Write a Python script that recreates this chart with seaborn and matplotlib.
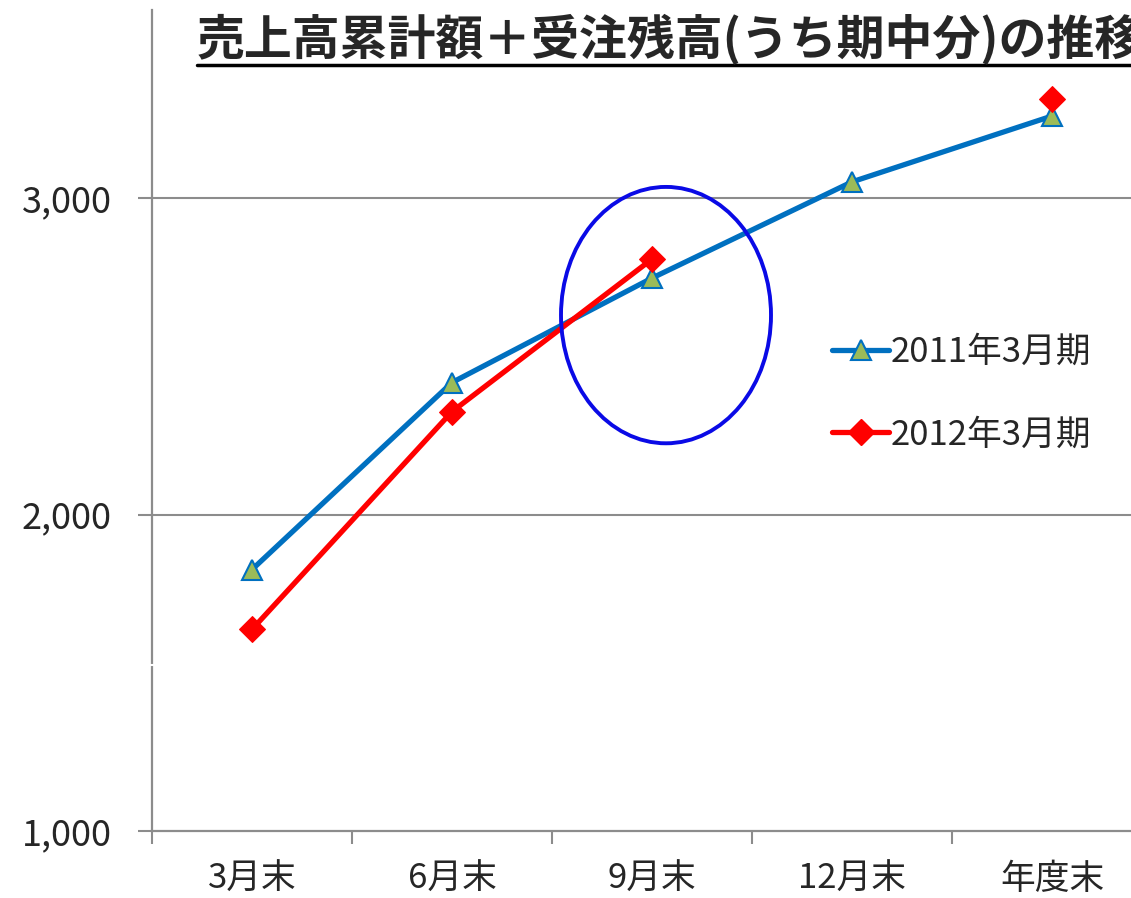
import numpy as np
import pandas as pd
import matplotlib
matplotlib.use("Agg")
import matplotlib.pyplot as plt
import seaborn as sns
from matplotlib.lines import Line2D
from matplotlib.patches import Ellipse

# Data
categories = ["3月末", "6月末", "9月末", "12月末", "年度末"]
fy2011 = [1826, 2417, 2747, 3051, 3259]
fy2012 = [1637, 2325, 2807, np.nan, 3313]
series_names = ["2011年3月期", "2012年3月期"]
title = "売上高累計額＋受注残高(うち期中分)の推移"
y_ticks = [1000, 2000, 3000]

blue = "#0070C0"
green = "#9BBB59"
red = "#FF0000"
gray = "#8C8C8C"

sns.set_style("white")
plt.rcParams["font.family"] = ["Noto Sans CJK JP", "DejaVu Sans"]

pos = np.arange(len(categories))
df11 = pd.DataFrame({"x": pos, "y": fy2011})
df12 = pd.DataFrame({"x": pos, "y": fy2012})
# split red series where values are missing, so the line keeps its gap
df12["seg"] = df12["y"].isna().cumsum()
df12 = df12.dropna()

fig = plt.figure(figsize=(11.31, 8.98), dpi=100)
ax = fig.add_axes([152 / 1131, 67 / 898, 1000 / 1131, 821 / 898])

sns.lineplot(data=df11, x="x", y="y", ax=ax, color=blue, lw=3.8,
             marker="^", markersize=14, markerfacecolor=green,
             markeredgecolor=blue, markeredgewidth=1.5, zorder=3)
sns.lineplot(data=df12, x="x", y="y", units="seg", estimator=None, ax=ax,
             color=red, lw=3.8, marker="D", markersize=13,
             markerfacecolor=red, markeredgecolor=red, zorder=4)

ax.set_xlim(-0.5, len(categories) - 0.5)
ax.set_ylim(1000, 3594)
ax.set_xlabel("")
ax.set_ylabel("")

# y axis
ax.set_yticks(y_ticks)
ax.set_yticklabels([f"{v:,}" for v in y_ticks], fontsize=26)
ax.tick_params(axis="y", which="major", direction="out", length=10,
               width=1.5, color=gray, pad=19, left=True)
for v in y_ticks[1:]:
    ax.axhline(v, color=gray, lw=1.5, zorder=1)
# little break in the value axis
ax.axhline(1526, xmin=-0.004, xmax=0.004, color="white", lw=1.5,
           clip_on=False, zorder=6)

# x axis: boundary ticks + centred labels
ax.set_xticks(np.arange(-0.5, len(categories) + 0.5, 1))
ax.set_xticklabels([])
ax.set_xticks(pos, minor=True)
ax.set_xticklabels(categories, minor=True, fontsize=25)
ax.tick_params(axis="x", which="major", direction="out", length=9,
               width=1.5, color=gray, bottom=True)
ax.tick_params(axis="x", which="minor", length=0, pad=22)

for s in ["top", "right"]:
    ax.spines[s].set_visible(False)
for s in ["left", "bottom"]:
    ax.spines[s].set_color(gray)
    ax.spines[s].set_linewidth(1.6)

# highlight circle around 9月末
ax.add_patch(Ellipse((2.07, 2630), 1.05, 810, fill=False,
                     edgecolor="#0A0AE6", lw=2.8, zorder=5))

handles = [
    Line2D([], [], color=blue, lw=3.8, marker="^", markersize=14,
           markerfacecolor=green, markeredgecolor=blue, markeredgewidth=1.5),
    Line2D([], [], color=red, lw=3.8, marker="D", markersize=13,
           markerfacecolor=red, markeredgecolor=red),
]
ax.legend(handles, series_names, loc="upper left",
          bbox_to_anchor=(0.666, 0.621), frameon=False, fontsize=25,
          handlelength=1.65, handletextpad=0.05, labelspacing=1.36,
          borderaxespad=0)

# title with underline, running off the right edge like the original
fig.text(197 / 1131, 1 - 40 / 898, title, fontsize=34.5, fontweight="bold",
         ha="left", va="center")
fig.add_artist(Line2D([197 / 1131, 1.0], [1 - 65 / 898, 1 - 65 / 898],
                      color="black", lw=2.5, transform=fig.transFigure))

fig.savefig("out.png", dpi=100)
